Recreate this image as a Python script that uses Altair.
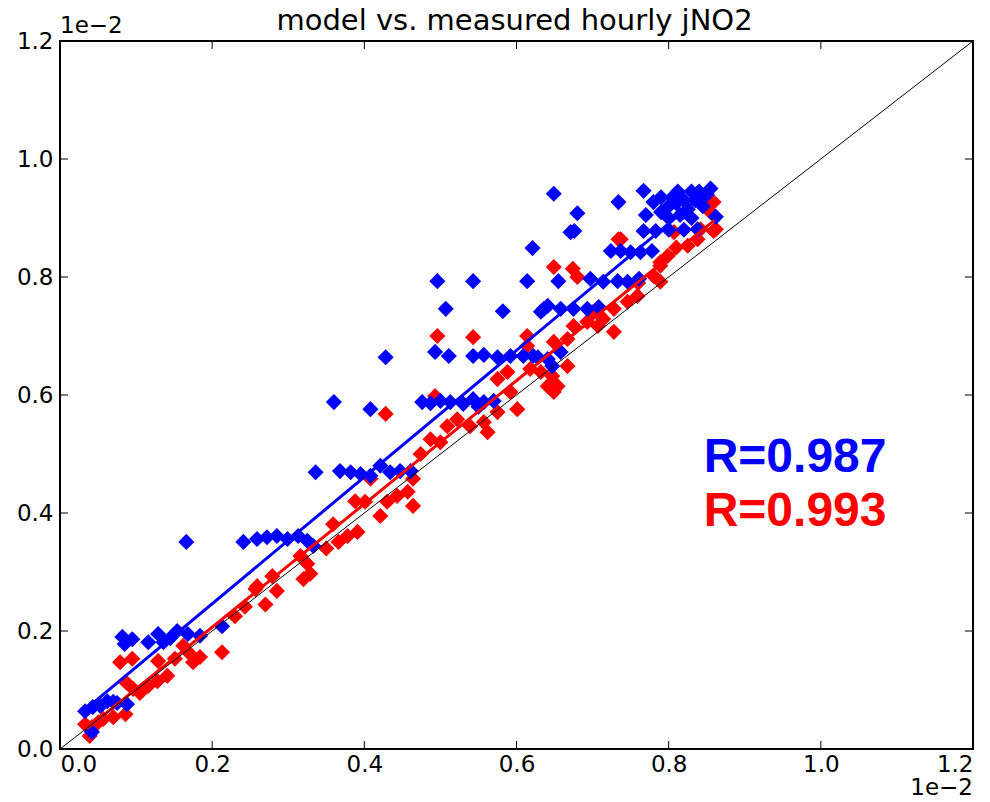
import altair as alt
import pandas as pd

blue_x = [0.033,0.043,0.053,0.062,0.070,0.088,0.042,0.075,
          0.082,0.095,0.116,0.129,0.136,0.154,0.168,0.184,0.213,0.145,0.085,
          0.166,
          0.241,0.259,0.272,0.285,0.299,0.313,0.325,0.333,
          0.336,0.368,0.382,0.395,0.408,0.421,0.434,0.447,0.461,
          0.360,0.408,0.428,0.493,0.511,
          0.476,0.487,0.500,0.513,0.530,0.543,0.557,0.570,0.550,
          0.496,0.543,0.614,0.507,0.582,
          0.543,0.557,0.575,0.592,0.609,0.628,0.641,0.622,0.647,0.658,
          0.632,0.641,0.636,0.658,0.675,0.693,0.708,
          0.655,0.697,0.714,0.733,0.746,0.761,
          0.649,0.680,0.621,0.671,0.676,0.734,
          0.724,0.737,0.750,0.763,0.778,
          0.767,0.783,0.800,0.820,0.838,0.862,
          0.767,0.780,0.790,0.800,0.805,0.812,0.820,0.825,0.830,0.835,0.840,0.845,0.850,0.855,0.800,0.815,0.830,0.845,0.790,0.810,0.770]
blue_y = [0.064,0.071,0.073,0.081,0.080,0.076,0.029,0.078,
          0.190,0.186,0.181,0.195,0.181,0.200,0.195,0.192,0.208,0.188,0.178,
          0.351,
          0.351,0.356,0.359,0.361,0.356,0.361,0.353,0.344,
          0.469,0.471,0.469,0.466,0.463,0.480,0.469,0.471,0.471,
          0.588,0.576,0.664,0.673,0.666,
          0.588,0.586,0.590,0.588,0.585,0.593,0.588,0.590,0.580,
          0.793,0.793,0.793,0.746,0.742,
          0.666,0.668,0.664,0.666,0.666,0.664,0.661,0.666,0.649,0.673,
          0.741,0.751,0.746,0.746,0.746,0.746,0.749,
          0.793,0.797,0.792,0.793,0.792,0.797,
          0.941,0.908,0.849,0.876,0.878,0.927,
          0.844,0.844,0.842,0.842,0.844,
          0.878,0.878,0.880,0.880,0.881,0.902,
          0.946,0.927,0.910,0.920,0.935,0.945,0.930,0.915,0.945,0.930,0.945,0.920,0.940,0.950,0.900,0.905,0.900,0.935,0.935,0.925,0.905]

red_x = [0.033,0.042,0.039,0.057,0.070,0.086,0.086,0.079,0.095,0.096,0.116,0.128,0.129,0.141,0.151,0.162,0.175,0.184,0.213,0.171,0.105,0.050,
         0.243,0.257,0.259,0.279,0.285,0.320,0.329,0.316,0.325,0.270,0.230,
         0.359,0.366,0.378,0.391,0.388,0.401,0.421,0.430,0.443,0.457,0.464,0.464,0.408,0.350,
         0.496,0.543,0.428,0.493,0.509,0.487,0.522,0.539,0.557,0.562,0.575,0.575,0.588,0.601,0.592,0.618,0.641,0.649,0.649,0.614,0.474,0.500,
         0.674,0.680,0.737,0.789,0.780,0.789,0.759,0.746,0.728,0.714,0.728,0.707,0.693,0.675,0.667,0.649,0.647,0.632,0.654,0.667,0.838,0.859,0.807,0.614,
         0.734,0.862,0.799,0.789,0.825,0.842,0.855,0.859,0.700,0.760,0.810]
red_y = [0.042,0.037,0.022,0.051,0.054,0.059,0.114,0.147,0.153,0.102,0.107,0.115,0.149,0.124,0.153,0.175,0.147,0.156,0.164,0.161,0.095,0.045,
         0.241,0.271,0.276,0.293,0.268,0.288,0.297,0.327,0.314,0.245,0.225,
         0.381,0.351,0.361,0.368,0.420,0.419,0.395,0.419,0.429,0.436,0.412,0.458,0.458,0.340,
         0.700,0.698,0.568,0.598,0.547,0.525,0.559,0.547,0.554,0.537,0.571,0.627,0.639,0.576,0.605,0.644,0.615,0.605,0.817,0.700,0.500,0.520,
         0.814,0.800,0.864,0.825,0.802,0.792,0.768,0.758,0.746,0.729,0.707,0.717,0.724,0.717,0.695,0.690,0.632,0.639,0.615,0.649,0.864,0.878,0.876,0.683,
         0.864,0.881,0.836,0.819,0.853,0.881,0.910,0.927,0.740,0.790,0.850]

blue_fit_x = [0.035, 0.86]
blue_fit_y = [0.069, 0.955]
red_fit_x = [0.035, 0.86]
red_fit_y = [0.034, 0.896]
diag = [0.0, 1.2]
ticks = [0.0, 0.2, 0.4, 0.6, 0.8, 1.0, 1.2]
title_text = "model vs. measured hourly jNO2"

W, H = 913, 708
FONT = "DejaVu Sans"
TICKFS = 23

xs = alt.Scale(domain=[0, 1.2], nice=False, zero=False)
ys = alt.Scale(domain=[0, 1.2], nice=False, zero=False)

xax = alt.Axis(values=ticks, format=".1f", domain=False, ticks=False, grid=False,
               labelFont=FONT, labelFontSize=TICKFS, labelColor="black", labelPadding=4, title=None)
yax = alt.Axis(values=ticks, format=".1f", domain=False, ticks=False, grid=False,
               labelFont=FONT, labelFontSize=TICKFS, labelColor="black", labelPadding=7, title=None)

pts = pd.DataFrame({
    "x": red_x + blue_x,
    "y": red_y + blue_y,
    "s": ["red"] * len(red_x) + ["blue"] * len(blue_x),
})

red_pts = alt.Chart(pts[pts.s == "red"]).mark_point(
    shape="diamond", filled=True, size=260, color="#ff0000", opacity=1, clip=True
).encode(x=alt.X("x:Q", scale=xs, axis=xax), y=alt.Y("y:Q", scale=ys, axis=yax))

blue_pts = alt.Chart(pts[pts.s == "blue"]).mark_point(
    shape="diamond", filled=True, size=260, color="#0000ff", opacity=1, clip=True
).encode(x=alt.X("x:Q", scale=xs), y=alt.Y("y:Q", scale=ys))

fits = pd.DataFrame({
    "x": blue_fit_x + red_fit_x,
    "y": blue_fit_y + red_fit_y,
    "s": ["blue", "blue", "red", "red"],
})
red_line = alt.Chart(fits[fits.s == "red"]).mark_line(color="#ff0000", strokeWidth=3).encode(
    x=alt.X("x:Q", scale=xs), y=alt.Y("y:Q", scale=ys))
blue_line = alt.Chart(fits[fits.s == "blue"]).mark_line(color="#0000ff", strokeWidth=3).encode(
    x=alt.X("x:Q", scale=xs), y=alt.Y("y:Q", scale=ys))

diag_line = alt.Chart(pd.DataFrame({"x": diag, "y": diag})).mark_line(
    color="black", strokeWidth=1, clip=True
).encode(x=alt.X("x:Q", scale=xs), y=alt.Y("y:Q", scale=ys))

tdf = pd.DataFrame({"v": ticks})
tb = alt.Chart(tdf).mark_rule(color="black", strokeWidth=1).encode(
    x=alt.X("v:Q", scale=xs), y=alt.value(H), y2=alt.value(H - 8))
tt = alt.Chart(tdf).mark_rule(color="black", strokeWidth=1).encode(
    x=alt.X("v:Q", scale=xs), y=alt.value(0), y2=alt.value(8))
tl = alt.Chart(tdf).mark_rule(color="black", strokeWidth=1).encode(
    y=alt.Y("v:Q", scale=ys), x=alt.value(0), x2=alt.value(8))
tr = alt.Chart(tdf).mark_rule(color="black", strokeWidth=1).encode(
    y=alt.Y("v:Q", scale=ys), x=alt.value(W), x2=alt.value(W - 8))

frame = alt.Chart(pd.DataFrame({"a": [0]})).mark_rect(
    fill=None, stroke="black", strokeWidth=2
).encode(x=alt.value(0), x2=alt.value(W), y=alt.value(0), y2=alt.value(H))

rtext = pd.DataFrame({
    "x": [0.846, 0.846],
    "y": [0.469, 0.378],
    "t": ["R=0.987", "R=0.993"],
    "c": ["#0000ff", "#ff0000"],
})
r_marks = alt.Chart(rtext).mark_text(
    font="Liberation Sans", fontWeight="bold", fontSize=48, align="left", baseline="alphabetic"
).encode(x=alt.X("x:Q", scale=xs), y=alt.Y("y:Q", scale=ys), text="t:N",
         color=alt.Color("c:N", scale=None))

off_df = pd.DataFrame({"x": [0.0, 1.2], "y": [1.2, 0.0], "t": ["1e\u22122", "1e\u22122"]})
off_top = alt.Chart(off_df.iloc[[0]]).mark_text(
    font=FONT, fontSize=TICKFS, align="left", baseline="alphabetic", dy=-8, color="black"
).encode(x=alt.X("x:Q", scale=xs), y=alt.Y("y:Q", scale=ys), text="t:N")
off_bot = alt.Chart(off_df.iloc[[1]]).mark_text(
    font=FONT, fontSize=TICKFS, align="right", baseline="alphabetic", dy=46, color="black"
).encode(x=alt.X("x:Q", scale=xs), y=alt.Y("y:Q", scale=ys), text="t:N")

title_mark = alt.Chart(pd.DataFrame({"t": [title_text]})).mark_text(
    font=FONT, fontSize=29, align="center", baseline="alphabetic", color="black"
).encode(x=alt.value(W / 2 - 2), y=alt.value(-11), text="t:N")

chart = alt.layer(
    red_pts, blue_pts, red_line, blue_line, diag_line, tb, tt, tl, tr, frame,
    r_marks, off_top, off_bot, title_mark
).properties(
    width=W, height=H,
    autosize=alt.AutoSizeParams(type="none"),
    padding={"left": 60, "top": 41, "right": 17, "bottom": 53},
).configure_view(stroke=None).configure(background="white")

chart.save("out.html", embed_options={"renderer": "svg", "actions": False})
